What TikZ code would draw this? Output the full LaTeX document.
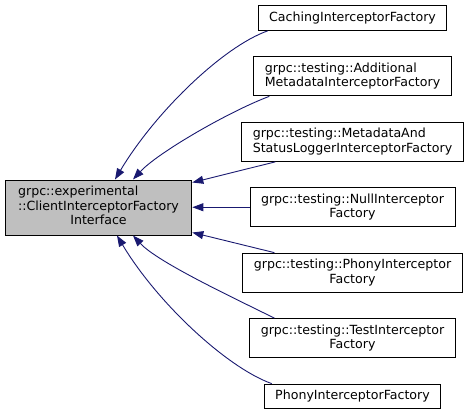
\documentclass[tikz,border=0pt]{standalone}
\usepackage{fontspec}
\setmainfont{DejaVu Sans}
\usetikzlibrary{arrows.meta,positioning}
\definecolor{baseGray}{HTML}{BFBFBF}
\definecolor{linkBlue}{HTML}{191970}

\begin{document}
\begin{tikzpicture}[x = 1pt, y = -1pt, node distance = 25.3pt,
  every node/.style = {font=\fontsize{12.6}{14.5}\selectfont},
  cls/.style = {draw = black, line width = 0.9pt, inner xsep = 11pt, inner ysep = 6.3pt},
  base/.style = {cls, fill = baseGray, align = center, inner xsep = 13pt, inner ysep = 5.8pt},
  inh/.style = {draw = linkBlue, line width = 0.9pt, -{Triangle[length=11pt,width=8pt]}}]
\useasboundingbox (0,0) rectangle (471,416);
\node[base] (iface) at (98.5,207.5) {\begin{tabular}[b]{@{}l@{}}grpc::experimental\\::ClientInterceptorFactory\end{tabular}\\Interface\strut};
\node[cls] (caching) at (352.5,18) {CachingInterceptorFactory};
\node[cls, align = left, below = of caching] (addmeta) {grpc::testing::Additional\\MetadataInterceptorFactory};
\node[cls, align = left, below = of addmeta] (statuslog) {grpc::testing::MetadataAnd\\StatusLoggerInterceptorFactory};
\node[cls, align = center, below = of statuslog] (nullic) {grpc::testing::NullInterceptor\\Factory};
\node[cls, align = center, below = of nullic] (phonytest) {grpc::testing::PhonyInterceptor\\Factory};
\node[cls, align = center, below = of phonytest] (testic) {grpc::testing::TestInterceptor\\Factory};
\node[cls, below = of testic] (phony) {PhonyInterceptorFactory};
\draw[inh] ([xshift=10pt]caching.south west) .. controls +(-45,16) and +(40,-67) .. ([xshift=16.5pt]iface.north);
\draw[inh] ([xshift=16pt]addmeta.south west) .. controls +(-40,15) and +(25,-27) .. ([xshift=34.5pt]iface.north);
\draw[inh] ([xshift=34pt]statuslog.south west) -- ([yshift=-3pt]iface.north east);
\draw[inh] (nullic.west) -- (nullic.west -| iface.east);
\draw[inh] ([xshift=32pt]phonytest.north west) -- ([yshift=3pt]iface.south east);
\draw[inh] ([xshift=25pt]testic.north west) .. controls +(-40,-20) and +(25,27) .. ([xshift=34.5pt]iface.south);
\draw[inh] ([xshift=8pt]phony.north west) .. controls +(-45,-16) and +(40,67) .. ([xshift=18.5pt]iface.south);
\end{tikzpicture}
\end{document}
